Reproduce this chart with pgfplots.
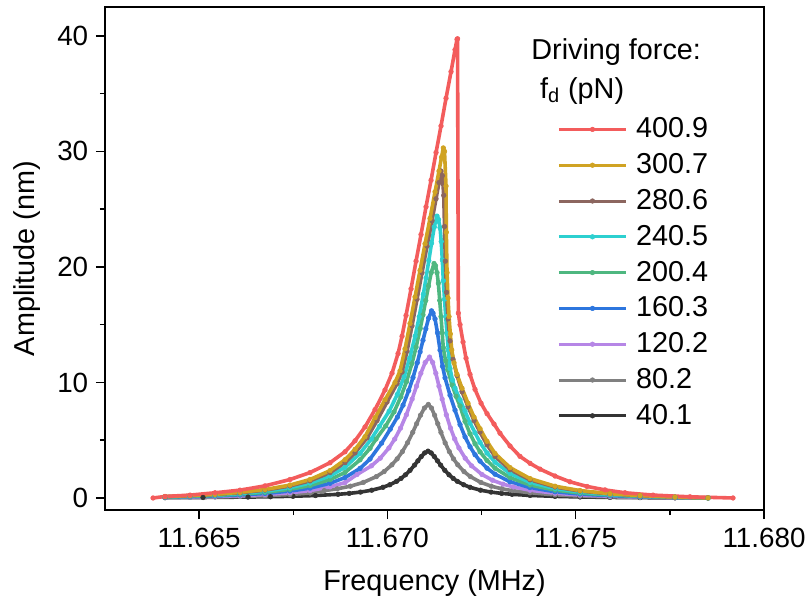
\documentclass[border=0pt]{standalone}
\usepackage{fontspec}
\setmainfont{Liberation Sans}
\usepackage{pgfplots}
\pgfplotsset{compat=1.18}
\usetikzlibrary{calc}
\definecolor{cRed}{RGB}{243,92,92}
\definecolor{cGold}{RGB}{208,163,35}
\definecolor{cBrown}{RGB}{140,102,95}
\definecolor{cCyan}{RGB}{45,208,208}
\definecolor{cGreen}{RGB}{78,183,128}
\definecolor{cBlue}{RGB}{45,118,222}
\definecolor{cPurple}{RGB}{182,134,230}
\definecolor{cGray}{RGB}{128,128,128}
\definecolor{cBlack}{RGB}{52,52,52}
\begin{document}
\begin{tikzpicture}
\begin{axis}[
 scale only axis, width=329.5pt, height=251.5pt,
 xmin=-7.5, xmax=10, ymin=-1.04, ymax=42.5,
 axis line style={line width=0.75pt, black},
 xtick={-5,0,5,10}, xticklabels={11.665,11.670,11.675,11.680},
 minor xtick={-2.5,2.5,7.5},
 ytick={0,10,20,30,40}, minor ytick={5,15,25,35},
 tick align=outside, xtick pos=bottom, ytick pos=left,
 major tick length=4.6pt, minor tick length=2.6pt,
 every tick/.style={black, line width=0.75pt},
 /pgf/number format/assume math mode=true,
 tick label style={font=\fontsize{13.9}{16}\selectfont, inner sep=0pt},
 xticklabel style={anchor=base, yshift=-14.4pt},
 yticklabel style={anchor=east, xshift=-3.6pt},
 label style={font=\fontsize{14.4}{17}\selectfont, inner sep=0pt},
 xlabel={Frequency (MHz)}, ylabel={Amplitude (nm)},
 xlabel style={at={(axis description cs:0.5,-0.15905)}, anchor=base},
 ylabel style={at={(axis description cs:-0.1067,0.5)}, anchor=base},
 every axis plot/.append style={line width=1.8pt, mark=*, mark size=1.15pt, line join=round, mark options={line width=0.3pt}},
 reverse legend,
 legend cell align=left,
 legend image code/.code={\draw[line width=1.5pt, mark repeat=2,mark phase=2] plot coordinates {(0pt,0pt) (16.75pt,0pt) (33.5pt,0pt)};},
 legend style={at={(axis description cs:0.686,0.793)}, anchor=north west, draw=none, fill=none, inner sep=0pt, row sep=0pt, column sep=4.3pt, font=\fontsize{14.4}{17}\selectfont, nodes={inner sep=0pt, minimum height=17.9pt}},
]
\addplot[color=cBlack] coordinates {(-5.906,0.025) (-4.897,0.043) (-3.702,0.079) (-3.105,0.108) (-2.507,0.149) (-1.910,0.212) (-1.312,0.317) (-1.013,0.398) (-0.715,0.510) (-0.416,0.674) (-0.117,0.926) (0.062,1.144) (0.242,1.439) (0.361,1.694) (0.480,2.008) (0.600,2.391) (0.720,2.844) (0.809,3.216) (0.899,3.586) (0.988,3.897) (1.078,4.053) (1.162,3.897) (1.245,3.586) (1.329,3.216) (1.413,2.844) (1.524,2.391) (1.636,2.008) (1.747,1.694) (1.859,1.439) (2.026,1.144) (2.193,0.926) (2.472,0.674) (2.751,0.510) (3.030,0.398) (3.309,0.317) (3.787,0.22) (4.451,0.14) (5.115,0.086) (5.911,0.05) (6.708,0.028) (7.637,0.011) (8.514,0.0)};
\addlegendentry{40.1}
\addplot[color=cGray] coordinates {(-5.906,0.03) (-5.242,0.055) (-4.578,0.086) (-3.914,0.13) (-3.250,0.20) (-2.587,0.30) (-2.055,0.43) (-1.676,0.633) (-1.330,0.794) (-0.985,1.020) (-0.640,1.347) (-0.295,1.849) (-0.088,2.284) (0.119,2.874) (0.258,3.384) (0.396,4.011) (0.534,4.777) (0.672,5.681) (0.775,6.425) (0.879,7.163) (0.982,7.784) (1.086,8.097) (1.170,7.784) (1.253,7.163) (1.337,6.425) (1.421,5.681) (1.532,4.777) (1.644,4.011) (1.755,3.384) (1.867,2.874) (2.034,2.284) (2.201,1.849) (2.480,1.347) (2.759,1.020) (3.038,0.794) (3.317,0.633) (3.787,0.45) (4.451,0.27) (5.115,0.17) (5.911,0.10) (6.708,0.055) (7.637,0.022) (8.514,0.0)};
\addlegendentry{80.2}
\addplot[color=cPurple] coordinates {(-5.906,0.05) (-5.242,0.08) (-4.578,0.13) (-3.914,0.20) (-3.250,0.30) (-2.587,0.45) (-2.055,0.64) (-1.524,0.96) (-1.126,1.33) (-0.807,2.030) (-0.422,2.786) (-0.191,3.442) (0.040,4.331) (0.194,5.099) (0.348,6.044) (0.502,7.198) (0.656,8.560) (0.772,9.681) (0.887,10.792) (1.003,11.729) (1.118,12.199) (1.202,11.729) (1.285,10.792) (1.369,9.681) (1.453,8.560) (1.564,7.198) (1.676,6.044) (1.787,5.099) (1.899,4.331) (2.066,3.442) (2.233,2.786) (2.512,2.030) (2.791,1.536) (3.070,1.197) (3.349,0.954) (3.787,0.67) (4.451,0.41) (5.115,0.26) (5.911,0.15) (6.708,0.083) (7.637,0.033) (8.514,0.0)};
\addlegendentry{120.2}
\addplot[color=cBlue] coordinates {(-5.906,0.06) (-5.242,0.11) (-4.578,0.17) (-3.914,0.26) (-3.250,0.39) (-2.587,0.60) (-2.055,0.85) (-1.524,1.27) (-1.126,1.77) (-0.728,2.56) (-0.462,3.37) (-0.154,4.75) (0.074,5.95) (0.263,6.99) (0.414,8.03) (0.566,9.30) (0.679,10.42) (0.793,11.71) (0.868,12.65) (0.944,13.65) (1.020,14.65) (1.095,15.58) (1.171,16.2) (1.211,16.0) (1.264,15.5) (1.330,14.3) (1.397,12.8) (1.463,11.4) (1.530,10.4) (1.662,8.9) (1.795,7.6) (1.928,6.35) (2.061,5.29) (2.193,4.44) (2.326,3.75) (2.459,3.19) (2.645,2.58) (2.857,2.06) (3.256,1.40) (3.787,0.90) (4.451,0.54) (5.115,0.34) (5.911,0.20) (6.708,0.11) (7.637,0.044) (8.514,0.0)};
\addlegendentry{160.3}
\addplot[color=cGreen] coordinates {(-5.906,0.08) (-5.242,0.14) (-4.578,0.22) (-3.914,0.33) (-3.250,0.49) (-2.587,0.75) (-2.055,1.07) (-1.524,1.59) (-1.126,2.21) (-0.728,3.3) (-0.462,4.3) (-0.302,5.1) (-0.045,6.24) (0.175,7.45) (0.358,8.76) (0.505,10.06) (0.651,11.64) (0.761,13.05) (0.871,14.67) (0.944,15.85) (1.018,17.09) (1.091,18.35) (1.164,19.51) (1.238,20.3) (1.277,20.1) (1.317,19.5) (1.352,18.6) (1.389,17.1) (1.423,15.7) (1.455,14.3) (1.484,13.0) (1.543,11.9) (1.601,11.1) (1.716,9.8) (1.822,8.8) (1.928,7.96) (2.061,6.63) (2.193,5.56) (2.326,4.70) (2.459,4.0) (2.645,3.24) (2.857,2.58) (3.256,1.76) (3.787,1.12) (4.451,0.68) (5.115,0.43) (5.911,0.25) (6.708,0.14) (7.637,0.055) (8.514,0.0)};
\addlegendentry{200.4}
\addplot[color=cCyan] coordinates {(-5.906,0.10) (-5.242,0.17) (-4.578,0.26) (-3.914,0.39) (-3.250,0.59) (-2.587,0.90) (-2.055,1.29) (-1.524,1.91) (-1.126,2.66) (-0.728,3.86) (-0.429,5.1) (-0.211,6.21) (0.044,7.50) (0.262,8.96) (0.444,10.52) (0.590,12.09) (0.735,14.0) (0.844,15.69) (0.953,17.63) (1.026,19.05) (1.099,20.55) (1.172,22.06) (1.244,23.46) (1.317,24.4) (1.357,24.1) (1.397,23.4) (1.429,22.2) (1.458,20.6) (1.484,18.8) (1.516,17.2) (1.548,15.7) (1.583,14.2) (1.617,12.8) (1.662,11.2) (1.729,10.2) (1.795,9.5) (1.928,8.5) (2.061,7.5) (2.193,6.5) (2.326,5.65) (2.459,4.81) (2.645,3.89) (2.857,3.10) (3.256,2.12) (3.787,1.35) (4.451,0.82) (5.115,0.52) (5.911,0.30) (6.708,0.17) (7.637,0.066) (8.514,0.0)};
\addlegendentry{240.5}
\addplot[color=cBrown] coordinates {(-5.906,0.11) (-5.242,0.19) (-4.578,0.30) (-3.914,0.45) (-3.250,0.68) (-2.587,1.04) (-2.055,1.48) (-1.524,2.2) (-1.126,3.06) (-0.860,3.9) (-0.542,5.2) (-0.276,6.7) (-0.011,8.3) (0.255,9.9) (0.388,10.9) (0.521,12.7) (0.653,14.9) (0.786,17.2) (0.919,19.5) (1.052,21.8) (1.184,24.0) (1.291,25.9) (1.370,27.3) (1.423,28.3) (1.458,27.9) (1.495,26.2) (1.516,23.5) (1.538,20.5) (1.569,17.8) (1.609,15.5) (1.662,13.6) (1.742,12.0) (1.848,10.6) (1.981,9.2) (2.140,7.9) (2.300,6.7) (2.459,5.7) (2.645,4.6) (2.857,3.6) (3.256,2.45) (3.787,1.57) (4.451,0.95) (5.115,0.60) (5.911,0.35) (6.708,0.19) (7.637,0.08) (8.514,0.01)};
\addlegendentry{280.6}
\addplot[color=cGold] coordinates {(-5.906,0.12) (-5.242,0.21) (-4.578,0.32) (-3.914,0.49) (-3.250,0.73) (-2.587,1.12) (-2.055,1.60) (-1.524,2.37) (-1.126,3.31) (-0.860,4.21) (-0.595,5.31) (-0.329,6.94) (-0.064,8.5) (0.202,10.0) (0.335,11.0) (0.467,12.9) (0.600,15.1) (0.733,17.4) (0.866,19.7) (0.999,22.0) (1.131,24.2) (1.264,26.5) (1.370,28.3) (1.437,29.5) (1.484,30.3) (1.516,30.0) (1.556,27.0) (1.564,23.0) (1.583,19.5) (1.609,17.3) (1.636,15.7) (1.670,14.2) (1.708,12.8) (1.769,11.7) (1.848,10.7) (1.981,9.5) (2.140,8.2) (2.300,7.0) (2.459,6.0) (2.645,4.9) (2.857,3.85) (3.256,2.63) (3.787,1.68) (4.451,1.02) (5.115,0.64) (5.911,0.37) (6.708,0.21) (7.637,0.08) (8.514,0.01)};
\addlegendentry{300.7}
\addplot[color=cRed] coordinates {(-6.224,0.0) (-5.906,0.13) (-5.242,0.25) (-4.578,0.45) (-3.914,0.68) (-3.250,1.05) (-2.587,1.6) (-2.055,2.2) (-1.524,3.05) (-1.126,4.0) (-0.860,4.95) (-0.595,6.15) (-0.329,7.65) (-0.064,9.35) (0.122,10.8) (0.282,12.5) (0.388,14.0) (0.494,15.8) (0.627,18.1) (0.760,20.5) (0.892,22.8) (1.025,25.2) (1.158,27.5) (1.291,29.9) (1.423,32.2) (1.556,34.6) (1.689,36.9) (1.795,38.8) (1.848,39.7) (1.862,39.75) (1.883,16.0) (1.928,15.0) (2.008,13.5) (2.087,12.1) (2.193,10.7) (2.326,9.4) (2.486,8.2) (2.645,7.3) (2.831,6.4) (2.990,5.6) (3.256,4.5) (3.521,3.6) (3.787,3.0) (4.052,2.5) (4.451,1.9) (4.849,1.4) (5.300,1.0) (5.778,0.7) (6.310,0.45) (7.053,0.25) (8.036,0.1) (9.177,0.0)};
\addlegendentry{400.9}
\node[anchor=base west, font=\fontsize{14.4}{17}\selectfont, inner sep=0pt] at (axis description cs:0.6464,0.8946) {Driving force:};
\node[anchor=base west, font=\fontsize{14.4}{17}\selectfont, inner sep=0pt] at (axis description cs:0.6595,0.8185) {f\textsubscript{d} (pN)};
\end{axis}
\path ($(current axis.south west)+(-52.5pt,-47pt)$) rectangle ($(current axis.north east)+(22.5pt,3.5pt)$);
\end{tikzpicture}
\end{document}
